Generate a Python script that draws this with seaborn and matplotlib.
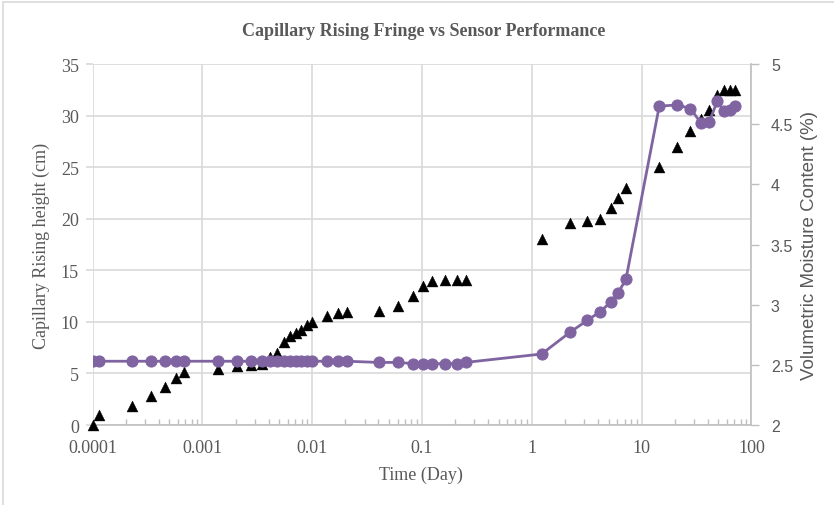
import matplotlib
matplotlib.use("Agg")
import matplotlib.pyplot as plt
import seaborn as sns
import pandas as pd
from matplotlib.ticker import FixedLocator, FixedFormatter, LogLocator, NullFormatter
from matplotlib.patches import Rectangle

# Elapsed time of each reading (days)
time_day = [0.0001, 0.000115, 0.000227, 0.000338, 0.000456, 0.00057, 0.000683,
            0.00138, 0.00205, 0.00274, 0.00346, 0.00412, 0.0048, 0.00558, 0.00626,
            0.00707, 0.00786, 0.00889, 0.01004, 0.01375, 0.017, 0.0206, 0.0405,
            0.0607, 0.0832, 0.103, 0.124, 0.162, 0.207, 0.249,
            1.228, 2.22, 3.20, 4.17, 5.22, 6.12, 7.19,
            14.47, 21.2, 27.8, 34.7, 41.3, 48.8, 56.2, 63.7, 71.2]

# Capillary rise height (cm)
rise_cm = [0.0, 1.0, 1.8, 2.8, 3.7, 4.6, 5.1,
           5.4, 5.7, 5.8, 5.9, 6.6, 7.0, 8.0, 8.6,
           8.9, 9.2, 9.7, 10.0, 10.6, 10.9, 11.0, 11.1,
           11.5, 12.5, 13.5, 14.0, 14.1, 14.1, 14.1,
           18.0, 19.6, 19.8, 20.0, 21.0, 22.0, 23.0,
           25.0, 27.0, 28.5, 29.7, 30.5, 32.0, 32.5, 32.5, 32.5]

# Sensor volumetric moisture content (%)
moisture_pct = [2.53, 2.53, 2.53, 2.53, 2.53, 2.53, 2.53,
                2.53, 2.53, 2.53, 2.53, 2.53, 2.53, 2.53, 2.53,
                2.53, 2.53, 2.53, 2.53, 2.53, 2.53, 2.53, 2.52,
                2.52, 2.51, 2.51, 2.51, 2.51, 2.51, 2.52,
                2.59, 2.77, 2.87, 2.94, 3.02, 3.10, 3.21,
                4.65, 4.66, 4.63, 4.51, 4.52, 4.69, 4.61, 4.62, 4.65]

x_ticks = [0.0001, 0.001, 0.01, 0.1, 1, 10, 100]
x_tick_labels = ["0.0001", "0.001", "0.01", "0.1", "1", "10", "100"]
left_ticks = [0, 5, 10, 15, 20, 25, 30, 35]
right_ticks = [2, 2.5, 3, 3.5, 4, 4.5, 5]
right_tick_labels = ["2", "2.5", "3", "3.5", "4", "4.5", "5"]

df = pd.DataFrame({"time": time_day, "rise": rise_cm, "moisture": moisture_pct})

sns.set_theme(style="white")
plt.rcParams["font.family"] = ["Liberation Serif", "DejaVu Serif"]

TEXT = "#595959"
GRID = "#D9D9D9"
AXIS = "#BFBFBF"
PURPLE = "#8064A2"
SERIF = ["Liberation Serif", "DejaVu Serif"]
SANS = ["Liberation Sans", "DejaVu Sans"]

fig = plt.figure(figsize=(8.34, 5.06), dpi=100)
ax = fig.add_axes([0.1111, 0.1581, 0.9010 - 0.1111, 0.8715 - 0.1581])

# chart-area frame (left and top edges visible)
fig.patches.append(Rectangle((3 / 834, -0.2), 1.2, 1.2 - 3 / 506,
                             transform=fig.transFigure, fill=False,
                             edgecolor=GRID, linewidth=1.2, zorder=0))

sns.scatterplot(data=df, x="time", y="rise", marker="^", s=62, color="black",
                edgecolor="black", linewidth=0.3, ax=ax, clip_on=False, zorder=3)

# moisture series on secondary axis
ax2 = ax.twinx()
sns.lineplot(data=df, x="time", y="moisture", color=PURPLE, linewidth=2.0,
             marker="o", markersize=8, markeredgecolor=PURPLE,
             markerfacecolor=PURPLE, ax=ax2, zorder=4)

ax.set_xscale("log")
ax2.set_xscale("log")
ax.set_xlim(1e-4, 100)
ax.set_ylim(0, 35)
ax2.set_ylim(2, 5)

ax.xaxis.set_major_locator(FixedLocator(x_ticks))
ax.xaxis.set_major_formatter(FixedFormatter(x_tick_labels))
ax.xaxis.set_minor_locator(LogLocator(base=10, subs=range(2, 10), numticks=50))
ax.xaxis.set_minor_formatter(NullFormatter())
ax.yaxis.set_major_locator(FixedLocator(left_ticks))
ax.yaxis.set_major_formatter(FixedFormatter([str(v) for v in left_ticks]))
ax.grid(True, which="major", color=GRID, linewidth=1.2)
ax.set_axisbelow(True)

for side in ["top", "left", "right"]:
    ax.spines[side].set_visible(False)
ax.spines["bottom"].set_color(AXIS)
ax.spines["bottom"].set_linewidth(1.2)

ax.tick_params(axis="x", which="major", direction="inout", length=8, width=1,
               color=AXIS, labelcolor=TEXT, labelsize=13, pad=6)
ax.tick_params(axis="x", which="minor", direction="in", length=4, width=1,
               color=AXIS, bottom=True)
ax.tick_params(axis="y", which="major", direction="out", length=5, width=1.2,
               color=GRID, labelcolor=TEXT, labelsize=13, pad=5, left=True)
for lab in ax.get_xticklabels() + ax.get_yticklabels():
    lab.set_family(SERIF)

ax.set_xlabel("Time (Day)", fontsize=13, color=TEXT, family=SERIF)
ax.xaxis.set_label_coords(0.498, -0.114)
ax.set_ylabel("Capillary Rising height (cm)", fontsize=13, color=TEXT, family=SERIF)
ax.yaxis.set_label_coords(-0.064, 0.5)

ax2.yaxis.set_major_locator(FixedLocator(right_ticks))
ax2.yaxis.set_major_formatter(FixedFormatter(right_tick_labels))
for side in ["top", "left", "bottom"]:
    ax2.spines[side].set_visible(False)
ax2.spines["right"].set_color(AXIS)
ax2.spines["right"].set_linewidth(1.2)
ax2.tick_params(axis="y", which="major", direction="out", length=6, width=1,
                color=AXIS, labelcolor=TEXT, labelsize=11.5, pad=8, right=True)
ax2.tick_params(axis="x", which="both", bottom=False, top=False,
                labelbottom=False, labeltop=False)
for lab in ax2.get_yticklabels():
    lab.set_family(SANS)
ax2.set_xlabel("")
ax2.set_ylabel("Volumetric Moisture Content (%)", fontsize=13.5, color=TEXT,
               family=SANS)
ax2.yaxis.set_label_coords(1.075, 0.5)
ax2.grid(False)

fig.text(424 / 834, 1 - 32 / 506, "Capillary Rising Fringe vs Sensor Performance",
         ha="center", va="center", fontsize=13, fontweight="bold", color=TEXT,
         family=SERIF)

fig.savefig("out.png", dpi=100)
